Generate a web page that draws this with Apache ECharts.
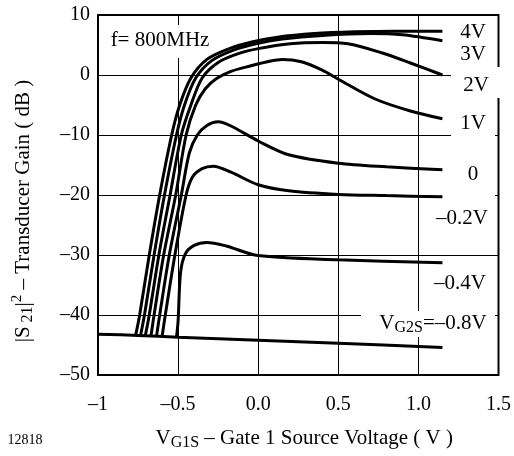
<!DOCTYPE html>
<html lang="en" style="height: 100%">
<head>
  <meta charset="utf-8">
</head>
<body style="height: 100%; margin: 0; background: #fff">
  <div id="container" style="width: 514px; height: 456px"></div>
  <script type="text/javascript" src="https://fastly.jsdelivr.net/npm/echarts@6/dist/echarts.min.js"></script>
  <script type="text/javascript">
    // gain curves, [VG1S (V), |S21|^2 (dB)]
    var curve4V = [[-0.765, -43.4], [-0.74, -40], [-0.68, -30], [-0.615, -20], [-0.54, -10], [-0.49, -5], [-0.42, -0.5], [-0.32, 2.6], [-0.18, 4.4], [-0.04, 5.5], [0.12, 6.3], [0.35, 6.9], [0.6, 7.2], [0.85, 7.3], [1.15, 7.3]];
    var curve3V = [[-0.735, -43.5], [-0.71, -40], [-0.65, -30], [-0.585, -20], [-0.51, -10], [-0.46, -5], [-0.39, -0.5], [-0.29, 2.4], [-0.15, 4.2], [0, 5.3], [0.15, 6.0], [0.4, 6.6], [0.7, 6.9], [0.9, 6.7], [1.15, 5.7]];
    var curve2V = [[-0.705, -43.5], [-0.68, -40], [-0.62, -30], [-0.55, -20], [-0.48, -10], [-0.42, -5], [-0.35, -0.5], [-0.25, 2.1], [-0.12, 3.6], [0, 4.4], [0.2, 5.2], [0.4, 5.4], [0.56, 5.2], [0.77, 3.7], [0.95, 2], [1.15, 0]];
    var curve1V = [[-0.67, -43.6], [-0.65, -40], [-0.59, -30], [-0.515, -20], [-0.45, -10], [-0.39, -5], [-0.33, -2.3], [-0.26, -0.6], [-0.17, 0.6], [-0.05, 1.5], [0.07, 2.3], [0.15, 2.6], [0.27, 2.2], [0.4, 0.8], [0.5, -0.7], [0.73, -4], [0.95, -6], [1.15, -7.3]];
    var curve0V = [[-0.635, -43.6], [-0.615, -40], [-0.555, -30], [-0.48, -20], [-0.43, -13], [-0.38, -10], [-0.32, -8.4], [-0.25, -7.8], [-0.17, -8.5], [0, -11], [0.19, -13.3], [0.5, -14.7], [0.8, -15.3], [1.15, -15.8]];
    var curveM02V = [[-0.6, -43.6], [-0.58, -40], [-0.52, -30], [-0.45, -20], [-0.41, -17], [-0.35, -15.6], [-0.28, -15.2], [-0.17, -16.2], [0, -18.3], [0.19, -19.3], [0.5, -19.9], [0.8, -20.1], [1.15, -20.3]];
    var curveM04V = [[-0.51, -43.7], [-0.5, -41], [-0.485, -33], [-0.455, -29.8], [-0.4, -28.4], [-0.32, -27.9], [-0.2, -28.5], [0, -30.1], [0.5, -30.8], [1.15, -31.3]];
    var curveM08V = [[-1, -43.2], [-0.75, -43.4], [-0.5, -43.7], [0, -44.2], [0.5, -44.7], [1.15, -45.4]];

    var curves = [curve4V, curve3V, curve2V, curve1V, curve0V, curveM02V, curveM04V, curveM08V];
    var curveNames = ['4V', '3V', '2V', '1V', '0', '-0.2V', '-0.4V', '-0.8V'];

    var xTicks = { min: -1, max: 1.5, step: 0.5 };
    var yTicks = { min: -50, max: 10, step: 10 };

    function dash(s) {
      return String(s).replace('-', '\u2013');
    }

    var serif = 'Liberation Serif';
    var rich = {
      a: { fontFamily: serif, fontSize: 21, color: '#000', lineHeight: 26 },
      sub: { fontFamily: serif, fontSize: 16, color: '#000', verticalAlign: 'bottom', lineHeight: 19 },
      sup: { fontFamily: serif, fontSize: 15, color: '#000', verticalAlign: 'top', lineHeight: 16 }
    };

    var myChart = echarts.init(document.getElementById('container'), null, { renderer: 'canvas' });

    // white patches behind the curve labels (they break the grid lines)
    function mask(x, y, w, h) {
      return { type: 'rect', z: 1, silent: true, shape: { x: x, y: y, width: w, height: h }, style: { fill: '#fff' } };
    }
    function label(text, cx, cy, size) {
      return {
        type: 'text', x: cx, y: cy, z: 10, silent: true,
        style: { text: text, font: (size || 21) + 'px "Liberation Serif"', fill: '#000', align: 'center', verticalAlign: 'middle' }
      };
    }

    var option = {
      animation: false,
      backgroundColor: '#fff',
      grid: {
        left: 98, right: 13, top: 15, bottom: 76,
        show: true, borderColor: '#000', borderWidth: 2
      },
      xAxis: {
        type: 'value',
        min: xTicks.min, max: xTicks.max, interval: xTicks.step,
        axisLine: { show: false },
        axisTick: { show: false },
        splitLine: { lineStyle: { color: '#000', width: 1 } },
        axisLabel: {
          margin: 20, color: '#000', fontFamily: serif, fontSize: 20,
          formatter: function (v) { return v === -1 ? '\u20131' : dash(v.toFixed(1)); }
        },
        name: '{a|V}{sub|G1S}{a| \u2013 Gate 1 Source Voltage ( V )}',
        nameLocation: 'middle', nameGap: 50,
        nameTextStyle: { rich: rich, padding: [0, 0, 0, 12] }
      },
      yAxis: {
        type: 'value',
        min: yTicks.min, max: yTicks.max, interval: yTicks.step,
        axisLine: { show: false },
        axisTick: { show: false },
        splitLine: { lineStyle: { color: '#000', width: 1 } },
        axisLabel: {
          margin: 8, color: '#000', fontFamily: serif, fontSize: 20,
          formatter: function (v) { return dash(v); }
        },
        name: '{a||S}{sub| 21}{a||}{sup|2}{a| \u2013 Transducer Gain ( dB )}',
        nameLocation: 'middle', nameGap: 62, nameRotate: 90,
        nameTextStyle: { rich: rich, padding: [0, 32, 0, 0] }
      },
      series: curves.map(function (c, i) {
        return {
          name: curveNames[i],
          type: 'line',
          data: c,
          symbol: 'none',
          smooth: 0.3,
          lineStyle: { color: '#000', width: 3 },
          z: 3
        };
      }),
      graphic: [
        mask(105, 25, 110, 33),
        mask(451, 67, 53, 31),
        mask(451, 112, 44, 29),
        mask(419, 160, 76, 36),
        mask(419, 203, 76, 32),
        mask(419, 268, 76, 39),
        mask(361, 311, 134, 26),
        label('f= 800MHz', 160, 40),
        label('4V', 473, 32),
        label('3V', 473, 54),
        label('2V', 476, 85),
        label('1V', 473, 123),
        label('0', 473, 174),
        label('\u20130.2V', 462, 218),
        label('\u20130.4V', 460, 283),
        {
          type: 'text', x: 433, y: 323, z: 10, silent: true,
          style: { text: '{a|V}{sub|G2S}{a|=\u20130.8V}', rich: rich, align: 'center', verticalAlign: 'middle' }
        },
        label('12818', 25, 440, 14)
      ]
    };

    myChart.setOption(option);
    window.addEventListener('resize', myChart.resize);
  </script>
</body>
</html>
